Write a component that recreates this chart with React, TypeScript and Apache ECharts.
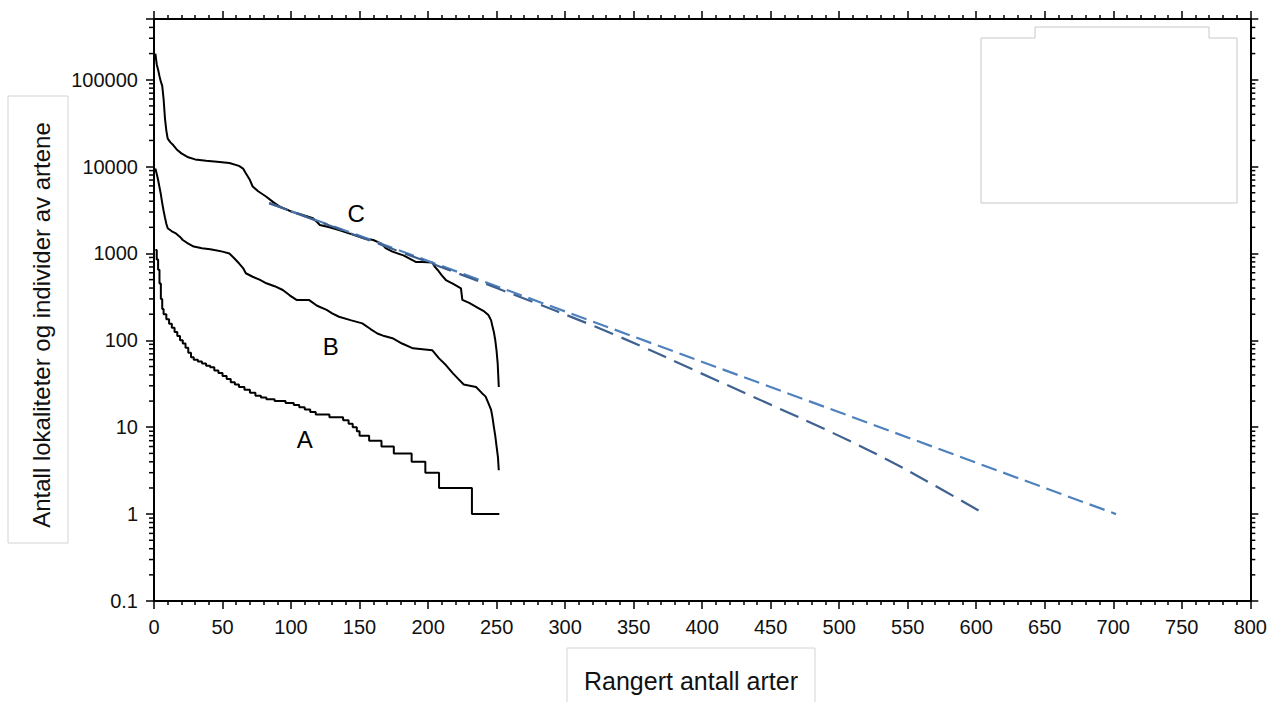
import { useEffect, useRef } from 'react';
import * as echarts from 'echarts';

// ---------- data (rank, count) ----------
const curveA: [number, number][] = [
  [1, 1100], [2, 850], [3, 650], [4, 450], [5, 300], [6, 230], [7, 200], [9, 175], [11, 155], [13, 140],
  [15, 125], [17, 112], [19, 100], [21, 92], [23, 82], [25, 72], [27, 64], [29, 60], [32, 57], [35, 54],
  [38, 51], [41, 49], [44, 45], [47, 42], [50, 39], [53, 36], [56, 33], [59, 31], [62, 29], [66, 27],
  [70, 25], [74, 23], [78, 22], [82, 21], [88, 20], [96, 19], [102, 18], [106, 17], [110, 16], [114, 15],
  [118, 14], [128, 13], [138, 12], [142, 11], [145, 10], [148, 9], [150, 8], [157, 7], [166, 6], [175, 5],
  [188, 4], [198, 3], [208, 2], [232, 1], [252, 1],
];

const curveB: [number, number][] = [
  [1, 9500], [2, 8200], [3, 7000], [4, 5800], [5, 4800], [6, 3800], [7, 3100], [8, 2600], [9, 2200], [10, 1950],
  [13, 1800], [16, 1700], [19, 1550], [21, 1430], [25, 1300], [29, 1200], [35, 1150], [41, 1120], [46, 1080], [50, 1050],
  [55, 1000], [58, 900], [62, 771], [65, 680], [67, 592], [72, 540], [77, 500], [82, 454], [88, 420], [94, 380],
  [99, 330], [104, 292], [113, 292], [119, 250], [126, 224], [130, 205], [135, 187], [144, 170], [152, 157], [158, 135],
  [163, 120], [168, 112], [174, 106], [181, 92], [189, 81], [196, 79], [203, 77], [208, 62], [213, 52], [218, 42],
  [222, 36], [226, 31], [235, 29], [239, 25], [242, 22.5], [244, 19], [246, 15.8], [247, 13], [248, 10.1], [249, 8],
  [250, 6], [251, 4.5], [251.6, 3.2],
];

const curveC: [number, number][] = [
  [1, 200000], [2, 150000], [3, 130000], [4, 110000], [5, 95000], [6, 85000], [7, 60000], [8, 36000], [9, 26000], [10, 21000],
  [12, 19000], [14, 17700], [17, 15500], [20, 14200], [25, 12800], [30, 12100], [38, 11700], [46, 11400], [55, 11000], [62, 10200],
  [65, 9500], [67, 8400], [70, 7000], [72, 5900], [76, 5200], [82, 4500], [87, 3900], [92, 3450], [97, 3200], [101, 3000],
  [108, 2800], [116, 2540], [119, 2300], [121, 2130], [128, 2000], [135, 1860], [145, 1650], [153, 1500], [160, 1430], [166, 1300],
  [169, 1150], [174, 1050], [182, 950], [191, 800], [196, 800], [203, 790], [205, 700], [207, 646], [210, 560], [213, 495],
  [218, 450], [224, 397], [225, 292], [230, 270], [237, 234], [241, 215], [244, 196], [246, 170], [247, 144], [248, 125],
  [249, 101], [250, 75], [250.8, 54], [251.6, 29],
];

const fitStraight: [number, number][] = [[84, 3800], [160, 1400], [250, 420], [426, 40], [702, 1]];
const fitCurved: [number, number][] = [
  [84, 3800], [150, 1560], [250, 400], [334, 120], [410, 35], [449, 18.5], [496, 8.5], [533, 4.4], [566, 2.3], [603, 1.07],
];

const curveLabels = [
  { name: 'C', value: [147.6, 2850] },
  { name: 'B', value: [129, 86] },
  { name: 'A', value: [110, 7.3] },
];

const xMin = 0;
const xMax = 800;
const xInterval = 50;
const yMin = 0.1;
const yMax = 500000;
const decades = [-1, 0, 1, 2, 3, 4, 5];
const minorMultipliers = [2, 3, 4, 5, 6, 7, 8, 9];

const yTitle = 'Antall lokaliteter og individer av artene';
const xTitle = 'Rangert antall arter';

const FONT = "'Liberation Sans', Arial, sans-serif";

export default function App() {
  const ref = useRef<HTMLDivElement>(null);

  useEffect(() => {
    if (!ref.current) return;
    const chart = echarts.init(ref.current, undefined, { renderer: 'svg' });

    const minorTickValues: number[] = [];
    decades.forEach((d) =>
      minorMultipliers.forEach((m) => {
        const v = m * Math.pow(10, d);
        if (v < yMax) minorTickValues.push(v);
      })
    );

    const yLabel = (v: number) => {
      const lg = Math.log10(v);
      if (Math.abs(lg - Math.round(lg)) > 1e-6) return '';
      return v >= 1 ? String(Math.round(v)) : String(Number(v.toFixed(1)));
    };

    const xAxisBase = {
      type: 'value',
      min: xMin,
      max: xMax,
      interval: xInterval,
      splitLine: { show: false },
      axisLine: { show: true, onZero: false, lineStyle: { color: '#000', width: 2 } },
      axisTick: { show: true, inside: false, length: 8, lineStyle: { color: '#000', width: 1.5 } },
      minorTick: { show: true, splitNumber: 5, length: 4, lineStyle: { color: '#000', width: 1.5 } },
      minorSplitLine: { show: false },
    };
    const yAxisBase = {
      type: 'log',
      logBase: 10,
      min: yMin,
      max: yMax,
      splitLine: { show: false },
      axisLine: { show: true, onZero: false, lineStyle: { color: '#000', width: 2 } },
      axisTick: { show: true, inside: false, length: 8, lineStyle: { color: '#000', width: 1.5 } },
      minorTick: { show: false },
    };

    const lineSeries = (data: [number, number][], extra: any) => ({
      type: 'line',
      data,
      showSymbol: false,
      symbol: 'none',
      silent: true,
      ...extra,
    });

    chart.setOption({
      animation: false,
      backgroundColor: '#fff',
      grid: { left: 154, right: 16, top: 19, bottom: 101, containLabel: false },
      xAxis: [
        {
          ...xAxisBase,
          position: 'bottom',
          axisLabel: { show: true, margin: 16, fontSize: 20, color: '#111', fontFamily: FONT },
        },
        { ...xAxisBase, position: 'top', axisLabel: { show: false } },
      ],
      yAxis: [
        {
          ...yAxisBase,
          position: 'left',
          axisLabel: { show: true, margin: 16, fontSize: 20, color: '#111', fontFamily: FONT, formatter: yLabel },
        },
        { ...yAxisBase, position: 'right', axisLabel: { show: false } },
      ],
      series: [
        lineSeries(curveA, { step: 'end', lineStyle: { color: '#000', width: 2 } }),
        lineSeries(curveB, { lineStyle: { color: '#000', width: 2 } }),
        lineSeries(curveC, { lineStyle: { color: '#000', width: 2 } }),
        lineSeries(fitStraight, { lineStyle: { color: '#4f81bd', width: 2.2, type: [16, 7] } }),
        lineSeries(fitCurved, { smooth: 0.4, lineStyle: { color: '#3f6190', width: 2.2, type: [20, 9] } }),
        {
          type: 'scatter',
          data: curveLabels,
          symbolSize: 0,
          silent: true,
          itemStyle: { opacity: 0 },
          label: {
            show: true,
            position: 'inside',
            formatter: (p: any) => p.name,
            fontSize: 24,
            color: '#000',
            opacity: 1,
            fontFamily: FONT,
          },
        },
        {
          type: 'custom',
          clip: false,
          silent: true,
          data: minorTickValues.map((v) => [xMin, v]),
          renderItem: (_params: any, api: any) => {
            const v = api.value(1);
            const l = api.coord([xMin, v]);
            const r = api.coord([xMax, v]);
            const style = { stroke: '#000', lineWidth: 1.5 };
            return {
              type: 'group',
              children: [
                { type: 'line', shape: { x1: l[0] - 5, y1: l[1], x2: l[0], y2: l[1] }, style },
                { type: 'line', shape: { x1: r[0], y1: r[1], x2: r[0] + 5, y2: r[1] }, style },
              ],
            };
          },
        },
      ],
      graphic: [
        {
          type: 'rect',
          shape: { x: 8, y: 96, width: 60, height: 447 },
          style: { fill: '#fff', stroke: '#d4d4d4', lineWidth: 1 },
          silent: true,
        },
        {
          type: 'text',
          x: 41,
          y: 325,
          rotation: Math.PI / 2,
          style: {
            text: yTitle,
            fontSize: 24,
            fontFamily: FONT,
            fill: '#111',
            textAlign: 'center',
            textVerticalAlign: 'middle',
          },
          silent: true,
        },
        {
          type: 'rect',
          shape: { x: 567, y: 648, width: 248, height: 60 },
          style: { fill: '#fff', stroke: '#d4d4d4', lineWidth: 1 },
          silent: true,
        },
        {
          type: 'text',
          x: 691,
          y: 681,
          style: {
            text: xTitle,
            fontSize: 25,
            fontFamily: FONT,
            fill: '#111',
            textAlign: 'center',
            textVerticalAlign: 'middle',
          },
          silent: true,
        },
        {
          type: 'polygon',
          shape: {
            points: [
              [981, 38], [1035, 38], [1035, 27], [1209, 27], [1209, 38], [1237, 38], [1237, 203], [981, 203],
            ],
          },
          style: { fill: 'none', stroke: '#c8c8c8', lineWidth: 1 },
          silent: true,
        },
      ],
    });

    return () => chart.dispose();
  }, []);

  return (
    <div
      ref={ref}
      style={{ position: 'absolute', left: 0, top: 0, width: 1270, height: 702, background: '#fff' }}
    />
  );
}
